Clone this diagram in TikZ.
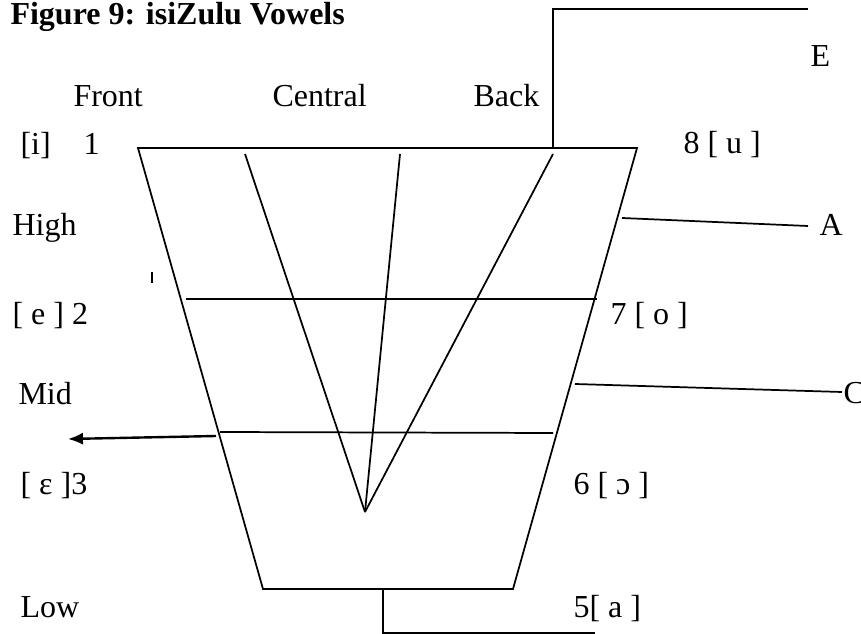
\documentclass[tikz,border=0pt]{standalone}
\usepackage{fontspec}
\setmainfont{Liberation Serif}
\usepackage{tikz}
\usetikzlibrary{arrows,arrows.meta,calc}
\tikzstyle{lbl} = [anchor=base west, inner sep=0pt, font=\fontsize{12}{14}\selectfont]
\tikzstyle{line} = [draw, line width=0.65pt]

\begin{document}
\begin{tikzpicture}[x=0.375pt, y=-0.375pt]
    \useasboundingbox (0,0) rectangle (861,634);

    % Chart corners
    \coordinate (tl) at (138,148);
    \coordinate (tr) at (637,148);
    \coordinate (br) at (513,589);
    \coordinate (bl) at (263,589);
    \coordinate (vtip) at (365,512);

    % Trapezoid
    \path [line] (tl) -- (tr) -- (br) -- (bl) -- cycle;

    % Lines meeting at the V
    \coordinate (vfront) at (245,154);
    \coordinate (vcentral) at (400,154);
    \coordinate (vback) at (553,154);
    \path [line] (vfront) -- (vtip);
    \path [line] (vcentral) -- (vtip);
    \path [line] (vback) -- (vtip);

    % Height levels
    \coordinate (highL) at (186,299);
    \coordinate (highR) at (597,299);
    \coordinate (midL) at (220,432);
    \coordinate (midR) at (553,433);
    \path [line] (highL) -- (highR);
    \path [line] (midL) -- (midR);
    \coordinate (arrS) at (216,436);
    \coordinate (arrE) at (68,439);
    \path [line, line width=0.9pt, -{Latex[length=5.6pt,width=4.6pt]}] (arrS) -- (arrE);

    % Leader lines to the right
    \coordinate (eTop) at (553,9);
    \coordinate (eEnd) at (808,9);
    \path [line] (vback |- tl) -- (eTop) -- (eEnd);
    \coordinate (aS) at (622,218);
    \coordinate (aE) at (808,226);
    \path [line] (aS) -- (aE);
    \coordinate (cS) at (575,384);
    \coordinate (cE) at (842,392);
    \path [line] (cS) -- (cE);
    \coordinate (lowS) at (383,589);
    \coordinate (lowD) at (383,633);
    \coordinate (lowE) at (595,633);
    \path [line] (lowS) -- (lowD) -- (lowE);

    % small tick
    \coordinate (tickA) at (152,272);
    \coordinate (tickB) at (152,283);
    \path [line] (tickA) -- (tickB);

    % Labels
    \node [lbl, font=\fontsize{12}{14}\selectfont\bfseries] (title) at (10,25) {Figure 9: isiZulu Vowels};
    \node [lbl] (front) at (73,107) {Front};
    \node [lbl] (central) at (272,107) {Central};
    \node [lbl] (back) at (473,107) {Back};
    \node [lbl] (vi) at (20,155) {[i]};
    \node [lbl] (n1) at (83,155) {1};
    \node [lbl] (vu) at (683,154) {8 [ u ]};
    \node [lbl] (e) at (810,67) {E};
    \node [lbl] (high) at (12,236) {High};
    \node [lbl] (a) at (819,236) {A};
    \node [lbl] (ve) at (12,325) {[ e ] 2};
    \node [lbl] (vo) at (610,325) {7 [ o ]};
    \node [lbl] (mid) at (18,405) {Mid};
    \node [lbl] (c) at (843,404) {C};
    \node [lbl] (veps) at (20,495) {[ ɛ ]3};
    \node [lbl] (vopen) at (573,495) {6 [ ɔ ]};
    \node [lbl] (low) at (20,617) {Low};
    \node [lbl] (va) at (573,617) {5[ a ]};
\end{tikzpicture}
\end{document}
